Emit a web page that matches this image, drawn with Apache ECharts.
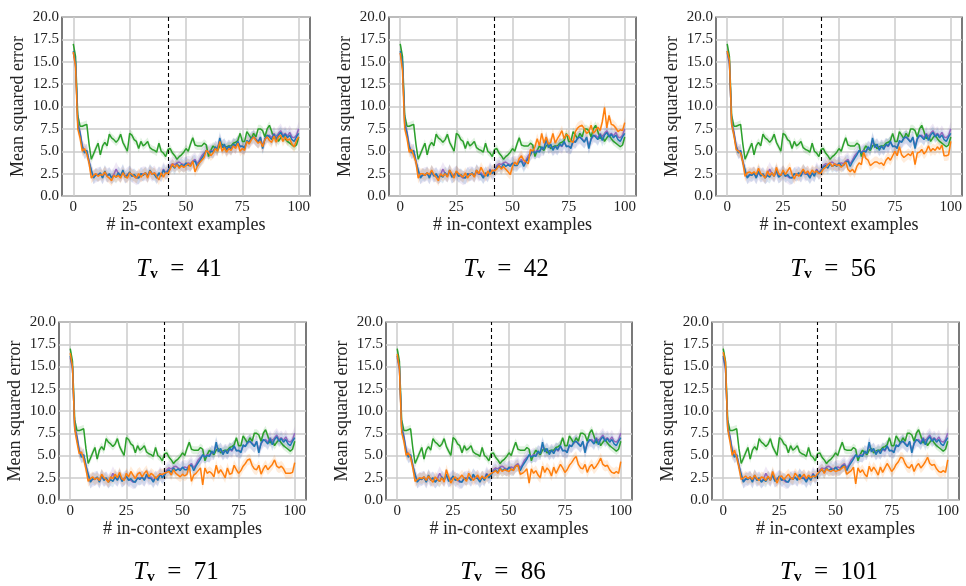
<!DOCTYPE html>
<html>
<head>
<meta charset="utf-8">
<script src="https://cdn.jsdelivr.net/npm/echarts@6/dist/echarts.min.js"></script>
<style>html,body{margin:0;padding:0;background:#fff}#c{width:966px;height:586px}</style>
</head>
<body>
<div id="c"></div>
<script>
// ---------- DATA ----------
const PANEL_TV = [41, 42, 56, 71, 86, 101];
const X_TICKS = [0, 25, 50, 75, 100];
const Y_TICKS = [0, 2.5, 5, 7.5, 10, 12.5, 15, 17.5, 20];
const CUTOFF_X = 42;

const green = [17.0,15.6,9.0,7.8,7.8,7.9,8.0,5.8,4.1,4.7,
 5.3,5.9,4.6,5.6,6.0,5.6,6.9,6.5,6.3,6.0,
 6.3,6.9,6.0,5.5,5.0,7.0,6.8,6.3,6.1,5.3,
 6.1,5.6,5.8,6.1,5.4,5.2,5.1,4.9,5.9,5.0,
 4.8,4.4,5.2,5.3,4.8,4.5,4.1,4.4,4.6,4.9,
 5.3,5.0,5.8,6.5,5.7,5.6,5.6,5.6,5.9,5.7,
 4.4,5.1,5.6,5.3,5.1,5.6,5.8,5.3,5.5,5.6,
 5.6,5.9,6.0,6.2,7.0,6.1,6.1,7.2,6.8,6.4,
 7.0,6.6,7.5,7.5,7.3,6.6,7.5,7.9,7.2,6.4,
 6.8,6.1,6.5,6.8,6.4,6.1,5.9,5.7,5.5,5.7,6.6];

const blue = [16.2,15.0,8.0,7.0,5.5,4.8,5.1,3.8,2.9,2.0,
 2.4,2.3,2.6,2.0,2.8,2.2,2.5,2.0,2.3,2.1,
 2.6,2.2,2.9,2.1,2.3,2.7,2.2,2.4,2.1,2.0,
 2.5,2.3,2.6,2.2,2.9,2.5,2.4,2.0,2.6,2.2,
 2.9,2.5,2.8,3.2,3.4,3.1,3.6,3.3,3.5,3.3,
 3.7,3.4,3.4,3.8,3.9,3.3,3.8,4.2,4.6,5.1,
 4.8,5.0,4.9,5.5,5.2,6.5,5.4,5.8,5.1,5.6,
 5.2,5.8,5.6,6.1,5.5,5.6,5.3,6.2,6.0,6.5,
 6.6,6.3,6.0,6.6,5.3,6.4,6.8,6.6,6.3,6.9,
 6.2,6.8,7.1,6.6,6.9,6.5,6.8,6.3,6.1,6.6,7.0];

const purple = [16.0,14.8,8.2,7.2,5.6,5.0,5.0,3.9,2.8,2.1,
 2.3,2.4,2.5,2.1,2.6,2.3,2.4,2.1,2.4,3.0,
 2.5,2.3,2.7,2.2,2.4,2.6,2.3,2.2,2.0,2.1,
 2.4,2.5,2.5,2.3,2.7,2.4,2.6,2.2,2.5,2.4,
 3.0,2.6,2.9,3.4,3.6,3.5,3.7,3.8,3.6,3.5,
 3.6,3.7,3.6,3.9,4.1,3.6,4.0,4.5,4.8,5.0,
 4.9,5.1,5.0,5.3,5.3,6.2,5.5,5.6,5.3,5.5,
 5.4,5.7,5.5,6.0,5.6,5.5,5.5,6.0,6.1,6.4,
 6.6,6.4,6.1,6.5,5.6,6.3,6.7,6.8,6.5,7.0,
 6.6,7.0,7.3,6.8,7.0,6.7,7.1,6.6,6.5,6.8,7.5];

const orange41 = [16.1,14.5,7.5,6.5,5.0,5.3,4.7,3.7,2.0,2.3,
 2.5,2.2,2.4,2.3,2.7,2.2,2.0,1.7,2.3,2.1,
 2.3,2.0,2.6,2.2,2.0,2.6,2.4,2.2,2.0,2.5,
 2.1,2.4,2.6,2.0,2.8,2.4,2.6,2.2,1.8,2.6,
 2.1,2.6,2.5,3.0,3.6,3.2,3.5,3.1,3.4,3.2,
 3.4,3.6,3.3,3.9,2.7,3.3,3.7,4.0,4.3,5.1,
 4.9,4.5,4.8,5.3,5.0,6.1,5.0,5.4,4.9,5.3,
 5.1,5.6,5.3,5.9,5.0,5.3,5.1,6.1,5.8,6.3,
 6.6,6.2,5.9,6.1,5.5,6.3,6.6,6.2,6.0,6.7,
 6.0,6.6,6.8,6.1,6.6,6.2,6.4,5.8,5.5,6.2,6.6];

const orange42 = [16.0,14.0,7.5,6.5,4.9,5.2,4.5,3.8,2.0,2.5,
 2.5,2.3,2.6,2.4,2.9,2.4,2.1,1.7,2.5,2.2,
 2.5,2.1,2.9,2.5,2.0,2.8,2.5,2.3,2.1,2.6,
 2.0,2.4,2.5,2.1,2.9,2.5,3.2,2.7,2.2,2.8,
 2.4,2.9,2.8,3.0,3.4,3.0,3.3,3.0,2.7,2.4,
 3.3,3.8,3.5,4.2,4.5,4.0,3.8,3.6,5.2,5.0,
 5.5,6.4,5.6,7.0,5.9,6.6,5.8,6.0,7.0,5.9,
 6.4,6.8,7.3,6.4,6.9,6.7,6.1,6.0,7.2,7.6,
 7.8,7.9,7.5,7.0,7.2,7.9,7.0,7.3,7.7,7.3,
 8.3,9.9,7.6,9.0,8.0,7.9,7.6,7.2,7.4,7.3,8.2];

const orange56 = [16.2,15.2,8.0,6.8,5.2,5.0,4.8,3.8,2.2,2.6,
 2.7,2.5,2.7,2.4,3.1,2.5,2.3,2.0,2.8,2.3,
 2.6,2.2,3.2,2.5,2.3,2.9,2.4,2.8,3.2,2.4,
 1.9,2.5,2.2,2.6,3.0,2.5,2.8,2.4,2.9,2.6,
 2.8,2.5,2.6,3.0,3.2,3.5,3.7,3.3,3.6,3.4,
 3.5,3.2,3.5,3.8,3.0,2.7,3.0,2.6,3.3,3.7,
 3.5,4.9,4.2,4.0,3.4,3.6,3.8,3.8,3.6,3.7,
 3.4,4.0,4.3,4.0,4.5,5.0,4.5,5.5,4.6,4.3,
 4.5,4.7,4.5,5.0,3.5,4.8,4.9,5.2,4.7,5.0,
 5.6,5.0,5.3,5.1,5.5,5.2,5.7,4.5,4.5,4.6,6.1];

const orange71 = [16.5,15.0,8.0,6.5,5.2,5.4,4.6,3.5,2.1,2.4,
 2.6,2.3,2.5,2.2,2.9,2.5,2.3,2.0,2.6,2.4,
 2.9,2.5,3.1,2.4,2.2,3.0,2.6,3.2,2.8,2.4,
 2.9,3.1,2.6,3.0,3.3,2.6,3.0,2.8,2.4,2.7,
 2.9,2.9,3.0,3.1,3.2,2.8,3.4,3.0,2.8,2.6,
 2.9,2.7,2.9,3.9,2.1,2.8,3.0,3.3,3.6,1.7,
 3.6,3.0,3.2,3.0,2.6,3.9,3.0,3.4,3.0,2.5,
 3.6,2.9,3.0,3.9,3.4,3.0,3.3,3.8,4.1,4.5,
 4.6,3.9,3.5,3.4,3.9,2.9,3.5,3.9,3.4,3.7,
 4.0,4.5,3.8,3.6,3.8,3.5,3.0,3.0,3.0,3.1,4.2];

const orange86 = [16.4,14.8,7.6,6.6,5.0,5.3,4.8,3.6,2.1,2.3,
 2.5,2.4,2.6,2.2,2.7,2.3,2.0,2.6,2.3,2.1,
 2.5,2.0,3.4,2.6,1.9,2.4,2.6,2.2,2.5,2.8,
 2.4,2.1,3.0,2.6,2.2,2.5,2.8,2.3,2.7,2.4,
 2.6,2.8,3.0,3.1,3.3,3.0,3.5,3.2,3.4,3.3,
 3.2,3.5,3.3,3.8,3.9,2.9,3.0,3.2,3.5,1.9,
 3.5,3.0,3.3,2.8,2.5,3.8,3.1,3.6,3.3,2.7,
 3.7,3.0,3.5,4.0,3.6,3.1,3.4,3.9,4.2,4.6,
 4.9,4.0,3.6,3.5,4.0,3.1,3.7,4.0,3.5,3.8,
 4.2,4.7,4.0,3.8,3.9,3.4,3.1,3.0,3.2,3.0,4.3];

const orange101 = [16.6,15.5,8.0,6.6,5.0,5.6,4.8,3.7,2.3,2.5,
 2.7,2.4,2.6,2.3,2.8,2.4,2.2,2.6,2.5,2.2,
 2.7,2.2,3.2,2.5,1.9,2.6,2.7,2.3,2.6,2.9,
 2.5,2.3,3.0,2.7,2.3,2.6,2.9,2.4,2.8,2.5,
 2.7,2.6,3.0,3.2,3.5,3.0,3.5,3.3,3.2,3.4,
 3.2,3.3,3.4,3.6,3.8,2.9,3.1,3.3,3.7,1.8,
 3.6,3.1,3.4,2.9,2.6,3.8,3.2,3.7,3.3,2.8,
 3.7,3.1,3.6,4.1,3.7,3.2,3.5,4.0,4.3,4.8,
 4.7,4.1,3.7,3.6,4.0,3.2,3.8,4.1,3.6,3.9,
 4.3,4.8,4.1,3.9,4.0,3.5,3.2,3.1,3.3,3.1,4.5];

const orangeByPanel = [orange41, orange42, orange56, orange71, orange86, orange101];

// half-widths of the shaded spread bands
const BAND_GREEN = 0.45, BAND_PURPLE = 0.8, BAND_BLUE = 0.7, BAND_ORANGE = 0.6;

// ---------- LAYOUT / STYLE ----------
const GRID_LEFT = [62, 389, 716, 59, 386, 712];
const GRID_TOP = [17, 17, 17, 322, 322, 322];
const GRID_W = [248, 247, 246, 247, 246, 247];
const GRID_H = [179, 179, 179, 178, 178, 178];
const TITLE_Y = [269, 269, 269, 572, 572, 572];
const COL = {green:'#2ca02c', purple:'#9467bd', blue:'#1f77b4', orange:'#ff7f0e'};
const SERIF = '"Liberation Serif", "DejaVu Serif", serif';

const grids = [], xAxes = [], yAxes = [], series = [], graphics = [];

function pairs(arr) { return arr.map((v, i) => [i, v]); }

function bandSeries(p, values, half, color) {
  return {
    type: 'custom', xAxisIndex: p, yAxisIndex: p, silent: true, z: 1,
    data: [[0, values[0]]],
    clip: true,
    renderItem: function (params, api) {
      const pts = [];
      for (let i = 0; i < values.length; i++) pts.push(api.coord([i, values[i] + half]));
      for (let i = values.length - 1; i >= 0; i--) pts.push(api.coord([i, values[i] - half]));
      return {type: 'polygon', shape: {points: pts},
        style: {fill: color, opacity: 0.15}};
    }
  };
}

for (let p = 0; p < 6; p++) {
  grids.push({left: GRID_LEFT[p], top: GRID_TOP[p], width: GRID_W[p], height: GRID_H[p],
    show: true, borderColor: '#222', borderWidth: 1.2, backgroundColor: '#fff'});
  xAxes.push({gridIndex: p, type: 'value', min: -5, max: 105,
    name: '# in-context examples', nameLocation: 'middle', nameGap: 19,
    nameTextStyle: {fontFamily: SERIF, fontSize: 18, color: '#222'},
    axisLine: {show: false},
    axisTick: {show: false, customValues: X_TICKS},
    axisLabel: {customValues: X_TICKS, fontFamily: SERIF, fontSize: 15, color: '#222', margin: 4},
    splitLine: {show: true, lineStyle: {color: '#cbcbcb', width: 1.5}}});
  yAxes.push({gridIndex: p, type: 'value', min: 0, max: 20, interval: 2.5,
    name: 'Mean squared error', nameLocation: 'middle', nameGap: 35,
    nameTextStyle: {fontFamily: SERIF, fontSize: 18, color: '#222'},
    axisLine: {show: false}, axisTick: {show: false},
    axisLabel: {fontFamily: SERIF, fontSize: 15, color: '#222', margin: 3,
      formatter: v => v.toFixed(1)},
    splitLine: {show: true, lineStyle: {color: '#cbcbcb', width: 1.5}}});

  const lines = [
    {key: 'green', data: green, band: BAND_GREEN},
    {key: 'purple', data: purple, band: BAND_PURPLE},
    {key: 'blue', data: blue, band: BAND_BLUE},
    {key: 'orange', data: orangeByPanel[p], band: BAND_ORANGE}
  ];
  lines.forEach(l => series.push(bandSeries(p, l.data, l.band, COL[l.key])));
  lines.forEach((l, k) => {
    const s = {type: 'line', xAxisIndex: p, yAxisIndex: p, symbol: 'none', silent: true,
      data: pairs(l.data), lineStyle: {color: COL[l.key], width: 1.5}, z: 3 + k};
    if (l.key === 'orange') {
      s.markLine = {symbol: 'none', silent: true, label: {show: false},
        lineStyle: {color: '#000', type: [4, 3], width: 1.1},
        data: [{xAxis: CUTOFF_X}]};
    }
    series.push(s);
  });

  graphics.push({type: 'text', x: GRID_LEFT[p] + 117, y: TITLE_Y[p],
    style: {text: '{t|T}{s|v}{e|  =  ' + PANEL_TV[p] + '}', align: 'center', verticalAlign: 'middle',
      rich: {
        t: {fontFamily: SERIF, fontStyle: 'italic', fontSize: 25, fill: '#000', lineHeight: 26, verticalAlign: 'bottom'},
        s: {fontFamily: SERIF, fontWeight: 'bold', fontSize: 15, fill: '#000', lineHeight: 15, verticalAlign: 'bottom'},
        e: {fontFamily: SERIF, fontSize: 25, fill: '#000', lineHeight: 26, verticalAlign: 'bottom'}
      }}});
}

const chart = echarts.init(document.getElementById('c'), null, {renderer: 'canvas'});
chart.setOption({
  animation: false,
  backgroundColor: '#fff',
  grid: grids, xAxis: xAxes, yAxis: yAxes, series: series, graphic: graphics
});
</script>
</body>
</html>
